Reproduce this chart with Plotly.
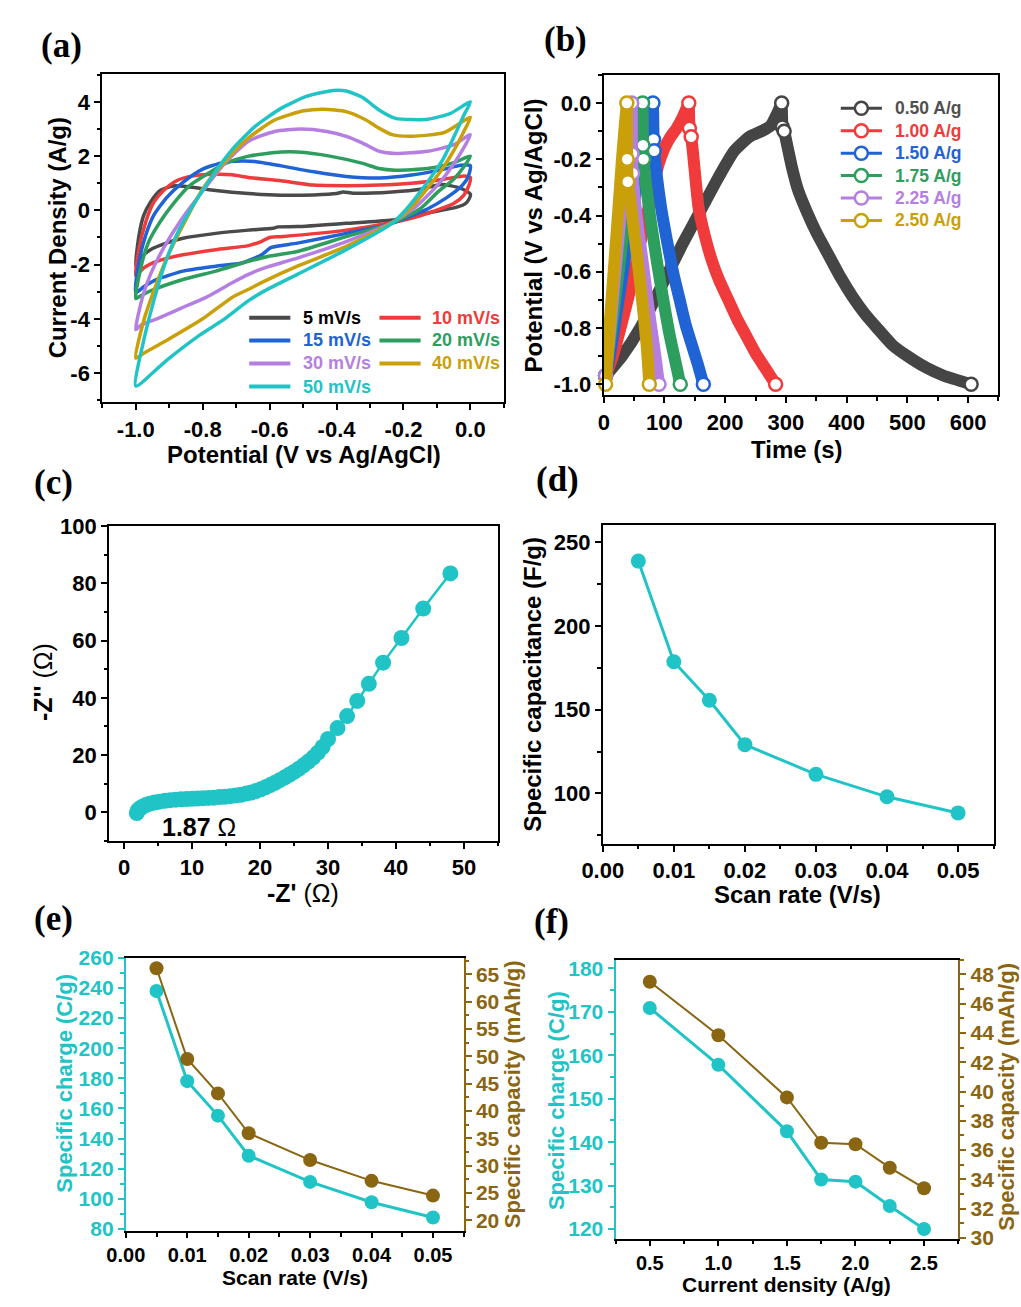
import plotly.graph_objects as go

# ======================= DATA =======================
# (a) cyclic voltammetry: anodic branch (-1.0 -> 0.0) followed by cathodic branch (0.0 -> -1.0)
cv_labels = ["5 mV/s", "10 mV/s", "15 mV/s", "20 mV/s", "30 mV/s", "40 mV/s", "50 mV/s"]

cv05_E = [-1.0, -0.99, -0.976, -0.956, -0.927, -0.888, -0.839, -0.761, -0.663, -0.566, -0.468, -0.40, -0.38, -0.35,
          -0.234, -0.15, -0.087, -0.03, 0.0,
          -0.004, -0.015, -0.038, -0.137, -0.234, -0.371, -0.517, -0.575, -0.59, -0.663, -0.761, -0.859, -0.907,
          -0.956, -0.985, -1.0]
cv05_J = [-2.05, -0.9, -0.18, 0.3, 0.73, 0.9, 0.86, 0.73, 0.62, 0.56, 0.57, 0.62, 0.68, 0.63,
          0.68, 0.78, 0.95, 0.82, 0.6,
          0.42, 0.25, 0.13, -0.12, -0.36, -0.48, -0.6, -0.61, -0.66, -0.73, -0.85, -1.03, -1.2,
          -1.45, -1.75, -2.05]

cv10_E = [-1.0, -0.99, -0.97, -0.946, -0.917, -0.878, -0.829, -0.761, -0.712, -0.663, -0.566, -0.468, -0.371, -0.273,
          -0.176, -0.078, -0.02, 0.0,
          -0.005, -0.02, -0.05, -0.088, -0.15, -0.234, -0.371, -0.566, -0.6, -0.625, -0.663, -0.761, -0.859, -0.937,
          -0.976, -1.0]
cv10_J = [-2.42, -1.4, -0.42, 0.3, 0.73, 1.09, 1.27, 1.33, 1.31, 1.21, 1.09, 0.93, 0.91, 0.93,
          1.0, 1.15, 1.27, 1.21,
          0.9, 0.55, 0.25, 0.06, -0.2, -0.45, -0.73, -0.97, -1.0, -1.15, -1.3, -1.45, -1.64, -1.88,
          -2.12, -2.42]

cv15_E = [-1.0, -0.99, -0.97, -0.946, -0.907, -0.859, -0.8, -0.741, -0.683, -0.644, -0.566, -0.468, -0.371, -0.273,
          -0.176, -0.078, -0.029, 0.0,
          -0.008, -0.03, -0.073, -0.127, -0.234, -0.371, -0.517, -0.595, -0.624, -0.683, -0.761, -0.859, -0.937,
          -0.976, -1.0]
cv15_J = [-3.03, -1.88, -0.91, -0.18, 0.48, 1.03, 1.52, 1.76, 1.82, 1.8, 1.64, 1.42, 1.25, 1.19,
          1.3, 1.52, 1.66, 1.64,
          1.2, 0.85, 0.45, 0.06, -0.48, -0.85, -1.21, -1.37, -1.64, -1.94, -2.06, -2.24, -2.55,
          -2.82, -3.03]

cv20_E = [-1.0, -0.985, -0.961, -0.927, -0.888, -0.839, -0.78, -0.732, -0.663, -0.566, -0.517, -0.42, -0.322, -0.273,
          -0.224, -0.127, -0.049, 0.0,
          -0.02, -0.05, -0.097, -0.15, -0.234, -0.371, -0.517, -0.605, -0.663, -0.761, -0.859, -0.956, -0.985, -1.0]
cv20_J = [-3.25, -2.12, -1.15, -0.42, 0.24, 0.91, 1.39, 1.73, 2.0, 2.15, 2.15, 2.0, 1.73, 1.54,
          1.48, 1.54, 1.76, 2.0,
          1.6, 1.15, 0.68, 0.06, -0.47, -0.97, -1.52, -1.7, -1.88, -2.24, -2.55, -2.97, -3.15, -3.25]

cv30_E = [-1.0, -0.98, -0.956, -0.917, -0.868, -0.81, -0.732, -0.663, -0.585, -0.507, -0.429, -0.371, -0.322, -0.273,
          -0.224, -0.127, -0.049, 0.0,
          -0.02, -0.045, -0.08, -0.117, -0.17, -0.234, -0.371, -0.517, -0.615, -0.663, -0.712, -0.79, -0.859,
          -0.937, -0.985, -1.0]
cv30_J = [-4.4, -3.21, -2.36, -1.39, -0.42, 0.55, 1.76, 2.55, 2.91, 3.0, 2.91, 2.73, 2.48, 2.18,
          2.1, 2.18, 2.42, 2.79,
          2.3, 1.8, 1.2, 0.68, 0.06, -0.45, -1.15, -1.76, -2.12, -2.36, -2.67, -3.21, -3.58,
          -4.0, -4.24, -4.4]

cv40_E = [-1.0, -0.976, -0.946, -0.907, -0.859, -0.8, -0.732, -0.663, -0.585, -0.498, -0.439, -0.371, -0.312, -0.273,
          -0.234, -0.176, -0.078, 0.0,
          -0.02, -0.045, -0.08, -0.137, -0.18, -0.234, -0.371, -0.517, -0.615, -0.663, -0.712, -0.8, -0.907,
          -0.976, -1.0]
cv40_J = [-5.45, -4.06, -2.97, -1.76, -0.55, 0.79, 1.82, 2.67, 3.33, 3.67, 3.73, 3.64, 3.33, 3.03,
          2.79, 2.73, 2.87, 3.43,
          2.9, 2.3, 1.6, 0.68, 0.06, -0.46, -1.33, -2.06, -2.61, -2.91, -3.21, -4.0, -4.79,
          -5.27, -5.45]

cv50_E = [-1.0, -0.976, -0.946, -0.917, -0.878, -0.829, -0.771, -0.712, -0.644, -0.566, -0.488, -0.41, -0.371, -0.322,
          -0.273, -0.224, -0.127, -0.059, 0.0,
          -0.02, -0.041, -0.082, -0.15, -0.19, -0.234, -0.371, -0.517, -0.615, -0.663, -0.741, -0.81, -0.907, -1.0]
cv50_J = [-6.48, -4.79, -3.33, -2.12, -0.91, 0.18, 1.27, 2.24, 3.09, 3.76, 4.21, 4.42, 4.4, 4.16,
          3.7, 3.39, 3.36, 3.58, 4.0,
          3.5, 2.93, 1.88, 0.68, 0.06, -0.48, -1.45, -2.36, -2.97, -3.33, -4.06, -4.61, -5.52, -6.48]

# (b) galvanostatic charge / discharge
gcd_labels = ["0.50 A/g", "1.00 A/g", "1.50 A/g", "1.75 A/g", "2.25 A/g", "2.50 A/g"]
gcd050_tc = [3, 30, 60, 100, 130, 160, 190, 215, 240, 260, 275, 285, 293]
gcd050_vc = [-0.97, -0.9, -0.8, -0.63, -0.5, -0.38, -0.26, -0.17, -0.12, -0.1, -0.08, -0.04, 0.0]
gcd050_td = [294, 297, 302, 310, 320, 335, 350, 370, 390, 410, 430, 450, 475, 500, 530, 560, 605]
gcd050_vd = [-0.085, -0.1, -0.15, -0.23, -0.31, -0.39, -0.46, -0.54, -0.62, -0.69, -0.75, -0.8, -0.86, -0.9,
             -0.94, -0.97, -1.0]
gcd100_tc = [3, 15, 30, 45, 60, 75, 90, 100, 110, 120, 130, 140]
gcd100_vc = [-0.97, -0.9, -0.78, -0.65, -0.5, -0.36, -0.22, -0.16, -0.12, -0.09, -0.05, 0.0]
gcd100_td = [141, 144, 148, 152, 156, 165, 178, 190, 205, 220, 235, 250, 265, 283]
gcd100_vd = [-0.09, -0.12, -0.2, -0.29, -0.37, -0.46, -0.56, -0.63, -0.7, -0.77, -0.83, -0.89, -0.94, -1.0]
gcd150_tc = [3, 10, 20, 30, 40, 50, 60, 70, 77, 81]
gcd150_vc = [-0.97, -0.9, -0.76, -0.62, -0.48, -0.35, -0.22, -0.1, -0.04, 0.0]
gcd150_td = [82, 83, 88, 95, 105, 115, 125, 135, 145, 155, 164]
gcd150_vd = [-0.13, -0.17, -0.27, -0.38, -0.5, -0.61, -0.7, -0.79, -0.86, -0.93, -1.0]
gcd175_tc = [3, 10, 20, 30, 40, 50, 58, 64]
gcd175_vc = [-0.97, -0.85, -0.68, -0.5, -0.32, -0.16, -0.06, 0.0]
gcd175_td = [64.5, 65.5, 70, 78, 88, 98, 108, 117, 126]
gcd175_vd = [-0.15, -0.2, -0.3, -0.43, -0.57, -0.7, -0.82, -0.91, -1.0]
gcd225_tc = [3, 10, 20, 30, 38, 43, 46]
gcd225_vc = [-0.97, -0.82, -0.58, -0.35, -0.15, -0.05, 0.0]
gcd225_td = [46.5, 47.5, 52, 58, 65, 72, 79, 85, 91]
gcd225_vd = [-0.18, -0.25, -0.36, -0.47, -0.58, -0.7, -0.81, -0.9, -1.0]
gcd250_tc = [3, 10, 17, 24, 30, 35, 38]
gcd250_vc = [-1.0, -0.78, -0.58, -0.38, -0.2, -0.07, 0.0]
gcd250_td = [38.5, 39.5, 42, 48, 54, 60, 66, 71, 75]
gcd250_vd = [-0.2, -0.28, -0.32, -0.42, -0.53, -0.64, -0.76, -0.87, -1.0]

# (c) Nyquist plot
eis_zre = [1.87, 2.0, 2.3, 2.7, 3.2, 3.8, 4.5, 5.2, 6.0, 6.8, 7.6, 8.4, 9.2, 10.0, 10.8, 11.6, 12.4, 13.2, 14.0,
           14.8, 15.6, 16.4, 17.2, 18.0, 18.7, 19.4, 20.1, 20.8, 21.5, 22.2, 22.9, 23.6, 24.3, 25.0, 25.7, 26.4,
           27.1, 27.8, 28.5, 29.2, 30.0, 31.4, 32.8, 34.3, 36.0, 38.1, 40.8, 44.0, 48.0]
eis_zim = [-0.3, 0.6, 1.3, 1.9, 2.5, 3.0, 3.4, 3.7, 4.0, 4.2, 4.4, 4.5, 4.6, 4.7, 4.8, 4.9, 5.0, 5.1, 5.3,
           5.4, 5.6, 5.8, 6.1, 6.5, 6.9, 7.4, 8.0, 8.7, 9.5, 10.3, 11.2, 12.1, 13.1, 14.1, 15.2, 16.4,
           17.7, 19.1, 20.8, 22.8, 25.6, 29.4, 33.6, 38.9, 44.9, 52.3, 60.9, 71.2, 83.5]
rs_label = "1.87"

# (d) & (e) scan-rate dependence
scan_rate = [0.005, 0.01, 0.015, 0.02, 0.03, 0.04, 0.05]
capacitance = [238.6, 178.6, 155.6, 129.1, 111.4, 98.0, 88.4]
charge_scan = [238.0, 178.1, 155.2, 128.6, 111.2, 97.7, 87.6]
capacity_scan = [66.1, 49.5, 43.2, 35.9, 31.0, 27.2, 24.5]

# (f) current-density dependence
current_density = [0.5, 1.0, 1.5, 1.75, 2.0, 2.25, 2.5]
charge_cd = [170.9, 157.8, 142.5, 131.4, 130.9, 125.3, 120.0]
capacity_cd = [47.5, 43.85, 39.6, 36.5, 36.4, 34.8, 33.4]

# tick labels
a_xtick_vals = [-1.0, -0.8, -0.6, -0.4, -0.2, 0.0]
a_xtick_text = ["-1.0", "-0.8", "-0.6", "-0.4", "-0.2", "0.0"]
a_ytick_vals = [-6, -4, -2, 0, 2, 4]
a_ytick_text = ["-6", "-4", "-2", "0", "2", "4"]
b_ytick_vals = [-1.0, -0.8, -0.6, -0.4, -0.2, 0.0]
b_ytick_text = ["-1.0", "-0.8", "-0.6", "-0.4", "-0.2", "0.0"]

# ======================= STYLE =======================
W, H = 1021, 1307
FONT = "Liberation Sans, Arial, sans-serif"
SERIF = "Liberation Serif, Times New Roman, serif"

CV_COLORS = ["#4a4a4a", "#ee3b3b", "#1f63d4", "#2e9e5f", "#b57fe2", "#c9a00a", "#20c4c6"]
GCD_COLORS = ["#454545", "#ef3b3b", "#1f63d4", "#2e9e5f", "#b57fe2", "#c9a00a"]
CYAN = "#20c4c6"
BROWN = "#8a6512"

BOX = {  # left, top, right, bottom in pixels
    'a': (83, 63, 493, 397),
    'b': (595, 64, 998, 390),
    'c': (90, 523, 487, 843),
    'd': (594, 522, 993, 846),
    'e': (107, 962, 452, 1240),
    'f': (607, 964, 957, 1248),
}


def fx(p):
    return p / W


def fy(p):
    return 1 - p / H


def xdom(k):
    l, t, r, b = BOX[k]
    return [fx(l), fx(r)]


def ydom(k):
    l, t, r, b = BOX[k]
    return [fy(b), fy(t)]


def tfont(size=22, color="black"):
    return dict(family=FONT, size=size, color=color, weight="bold")


def minor(dtick, tick0=0, color="black"):
    return dict(ticks="outside", ticklen=3.5, tickwidth=1.5, tickcolor=color,
                tickmode="linear", dtick=dtick, tick0=tick0)


def ax(**kw):
    d = dict(showgrid=False, zeroline=False, showline=True, linecolor="black", linewidth=2,
             mirror=True, ticks="outside", ticklen=6, tickwidth=2, tickcolor="black",
             tickfont=tfont())
    d.update(kw)
    return d


fig = go.Figure()

# ---- (a) CV ----
cv_E = [cv05_E, cv10_E, cv15_E, cv20_E, cv30_E, cv40_E, cv50_E]
cv_J = [cv05_J, cv10_J, cv15_J, cv20_J, cv30_J, cv40_J, cv50_J]
for E, J, c, name in zip(cv_E, cv_J, CV_COLORS, cv_labels):
    fig.add_trace(go.Scatter(x=E, y=J, mode="lines", name=name,
                             line=dict(color=c, width=3.5, shape="spline", smoothing=0.6),
                             xaxis="x", yaxis="y"))

# ---- (b) GCD ----
gcd_sets = [
    (gcd050_tc, gcd050_vc, gcd050_td, gcd050_vd),
    (gcd100_tc, gcd100_vc, gcd100_td, gcd100_vd),
    (gcd150_tc, gcd150_vc, gcd150_td, gcd150_vd),
    (gcd175_tc, gcd175_vc, gcd175_td, gcd175_vd),
    (gcd225_tc, gcd225_vc, gcd225_td, gcd225_vd),
    (gcd250_tc, gcd250_vc, gcd250_td, gcd250_vd),
]
for (tc, vc, td, vd), c, name in zip(gcd_sets, GCD_COLORS, gcd_labels):
    band = dict(color=c, width=12, shape="spline", smoothing=0.5)
    fig.add_trace(go.Scatter(x=tc, y=vc, mode="lines", name=name, line=band, xaxis="x2", yaxis="y2"))
    fig.add_trace(go.Scatter(x=[tc[-1], td[0]], y=[vc[-1], vd[0]], mode="lines", showlegend=False,
                             line=dict(color=c, width=12), xaxis="x2", yaxis="y2"))
    fig.add_trace(go.Scatter(x=td, y=vd, mode="lines", showlegend=False, line=band, xaxis="x2", yaxis="y2"))
    fig.add_trace(go.Scatter(x=[tc[0], tc[-1], td[0], td[1], td[-1]],
                             y=[vc[0], vc[-1], vd[0], vd[1], vd[-1]],
                             mode="markers", showlegend=False, cliponaxis=False,
                             marker=dict(symbol="circle", size=13, color="white",
                                         line=dict(color=c, width=2.5)),
                             xaxis="x2", yaxis="y2"))

# ---- (c) Nyquist ----
fig.add_trace(go.Scatter(x=eis_zre, y=eis_zim, mode="lines+markers",
                         line=dict(color=CYAN, width=2.5),
                         marker=dict(color=CYAN, size=16),
                         xaxis="x3", yaxis="y3", cliponaxis=False))

# ---- (d) capacitance ----
fig.add_trace(go.Scatter(x=scan_rate, y=capacitance, mode="lines+markers",
                         line=dict(color=CYAN, width=3), marker=dict(color=CYAN, size=15),
                         xaxis="x4", yaxis="y4"))

# ---- (e) ----
fig.add_trace(go.Scatter(x=scan_rate, y=charge_scan, mode="lines+markers",
                         line=dict(color=CYAN, width=3), marker=dict(color=CYAN, size=14),
                         xaxis="x5", yaxis="y5"))
fig.add_trace(go.Scatter(x=scan_rate, y=capacity_scan, mode="lines+markers",
                         line=dict(color=BROWN, width=2), marker=dict(color=BROWN, size=14),
                         xaxis="x5", yaxis="y7"))

# ---- (f) ----
fig.add_trace(go.Scatter(x=current_density, y=charge_cd, mode="lines+markers",
                         line=dict(color=CYAN, width=3), marker=dict(color=CYAN, size=14),
                         xaxis="x6", yaxis="y6"))
fig.add_trace(go.Scatter(x=current_density, y=capacity_cd, mode="lines+markers",
                         line=dict(color=BROWN, width=2), marker=dict(color=BROWN, size=14),
                         xaxis="x6", yaxis="y8"))

# ======================= LAYOUT =======================
layout = dict(
    width=W, height=H, margin=dict(l=0, r=0, t=0, b=0),
    paper_bgcolor="white", plot_bgcolor="white", showlegend=False,
    xaxis=ax(domain=xdom('a'), range=[-1.1, 0.1], anchor="y", tickmode="array",
             tickvals=a_xtick_vals, ticktext=a_xtick_text, minor=minor(0.1, -1.0)),
    yaxis=ax(domain=ydom('a'), range=[-7.08, 5.03], anchor="x", tickmode="array",
             tickvals=a_ytick_vals, ticktext=a_ytick_text, minor=minor(1, 0)),
    xaxis2=ax(domain=xdom('b'), range=[0, 650], anchor="y2", dtick=100, tick0=0, minor=minor(50, 0)),
    yaxis2=ax(domain=ydom('b'), range=[-1.04, 0.1], anchor="x2", tickmode="array",
              tickvals=b_ytick_vals, ticktext=b_ytick_text, minor=minor(0.1, 0)),
    xaxis3=ax(domain=xdom('c'), range=[-2.2, 55], anchor="y3", dtick=10, tick0=0, minor=minor(5, 0)),
    yaxis3=ax(domain=ydom('c'), range=[-10, 100], anchor="x3", dtick=20, tick0=0, minor=minor(10, 0)),
    xaxis4=ax(domain=xdom('d'), range=[0, 0.055], anchor="y4", dtick=0.01, tick0=0, tickformat=".2f",
              minor=minor(0.005, 0)),
    yaxis4=ax(domain=ydom('d'), range=[70, 260], anchor="x4", dtick=50, tick0=0, minor=minor(25, 0)),
    xaxis5=ax(domain=xdom('e'), range=[0, 0.055], anchor="y5", dtick=0.01, tick0=0, tickformat=".2f",
              minor=minor(0.005, 0), tickfont=tfont(20), ticklen=5),
    yaxis5=ax(domain=ydom('e'), range=[78.5, 260], anchor="x5", dtick=20, tick0=0, mirror=False,
              linecolor=CYAN, tickcolor=CYAN, tickfont=tfont(21, CYAN), minor=minor(10, 0, CYAN)),
    yaxis7=ax(domain=ydom('e'), range=[18, 68], anchor="x5", overlaying="y5", side="right",
              dtick=5, tick0=0, mirror=False, linecolor=BROWN, tickcolor=BROWN,
              tickfont=tfont(21, BROWN), minor=minor(2.5, 0, BROWN)),
    xaxis6=ax(domain=xdom('f'), range=[0.25, 2.75], anchor="y6", dtick=0.5, tick0=0, tickformat=".1f",
              minor=minor(0.25, 0), tickfont=tfont(20), ticklen=5),
    yaxis6=ax(domain=ydom('f'), range=[117.7, 182], anchor="x6", dtick=10, tick0=0, mirror=False,
              linecolor=CYAN, tickcolor=CYAN, tickfont=tfont(21, CYAN), minor=minor(5, 0, CYAN)),
    yaxis8=ax(domain=ydom('f'), range=[29.93, 49], anchor="x6", overlaying="y6", side="right",
              dtick=2, tick0=0, mirror=False, linecolor=BROWN, tickcolor=BROWN,
              tickfont=tfont(21, BROWN), minor=minor(1, 0, BROWN)),
)
fig.update_layout(**layout)

annotations = []


def note(text, px, py, size, color="black", angle=0, family=FONT, anchor="center", weight="normal"):
    annotations.append(dict(text=text, x=fx(px), y=fy(py), xref="paper", yref="paper",
                            xanchor=anchor, yanchor="middle", showarrow=False, textangle=angle,
                            font=dict(family=family, size=size, color=color, weight=weight)))


# panel labels
for lab, px, py in [("(a)", 41, 34), ("(b)", 556, 28), ("(c)", 33, 479),
                    ("(d)", 548, 475), ("(e)", 33, 922), ("(f)", 542, 925)]:
    note(lab, px, py, 35, family=SERIF, weight="bold")

# axis titles
note("Potential (V vs Ag/AgCl)", 289, 450, 24, weight="bold")
note("Current Density (A/g)", 37, 230, 24, angle=-90, weight="bold")
note("Time (s)", 792, 445, 24, weight="bold")
note("Potential (V vs Ag/AgCl)", 523, 227, 24, angle=-90, weight="bold")
note("<b>-Z'</b> (Ω)", 288, 896, 25)
note("<b>-Z''</b> (Ω)", 22, 682, 25, angle=-90)
note("<b>" + rs_label + "</b> Ω", 182, 829, 25)
note("Specific capacitance (F/g)", 522, 684, 24, angle=-90, weight="bold")
note("Scan rate (V/s)", 793, 898, 24, weight="bold")
note("Specific charge (C/g)", 45, 1090, 22, color=CYAN, angle=-90, weight="bold")
note("Specific capacity (mAh/g)", 502, 1101, 22, color=BROWN, angle=-90, weight="bold")
note("Scan rate (V/s)", 280, 1287, 21, weight="bold")
note("Specific charge (C/g)", 547, 1107, 22, color=CYAN, angle=-90, weight="bold")
note("Specific capacity (mAh/g)", 1006, 1103, 22, color=BROWN, angle=-90, weight="bold")
note("Current density (A/g)", 782, 1294, 21, weight="bold")

shapes = []

# legend (a): two columns
a_rows = [311, 334, 357.5, 381]
a_pos = [(0, 0), (1, 0), (0, 1), (1, 1), (0, 2), (1, 2), (0, 3)]
for i, (col, row) in enumerate(a_pos):
    y = a_rows[row]
    x0, x1, xt = (233, 275, 286) if col == 0 else (366, 408, 418)
    shapes.append(dict(type="line", xref="paper", yref="paper", x0=fx(x0), x1=fx(x1), y0=fy(y), y1=fy(y),
                       line=dict(color=CV_COLORS[i], width=4)))
    tc = "black" if i == 0 else CV_COLORS[i]
    note(cv_labels[i], xt, y, 18, color=tc, anchor="left", weight="bold")

# legend (b)
for i, name in enumerate(gcd_labels):
    y = 98 + 22.8 * i
    c = GCD_COLORS[i]
    shapes.append(dict(type="line", xref="paper", yref="paper", x0=fx(837), x1=fx(879), y0=fy(y), y1=fy(y),
                       line=dict(color=c, width=3)))
    shapes.append(dict(type="circle", xref="paper", yref="paper", xsizemode="pixel", ysizemode="pixel",
                       xanchor=fx(858), yanchor=fy(y), x0=-6.5, x1=6.5, y0=-6.5, y1=6.5,
                       fillcolor="white", line=dict(color=c, width=2.5)))
    note(name, 890, y, 17.5, color=c if i > 0 else "#505050", anchor="left", weight="bold")

fig.update_layout(annotations=annotations, shapes=shapes)
fig.write_html("out.html")
